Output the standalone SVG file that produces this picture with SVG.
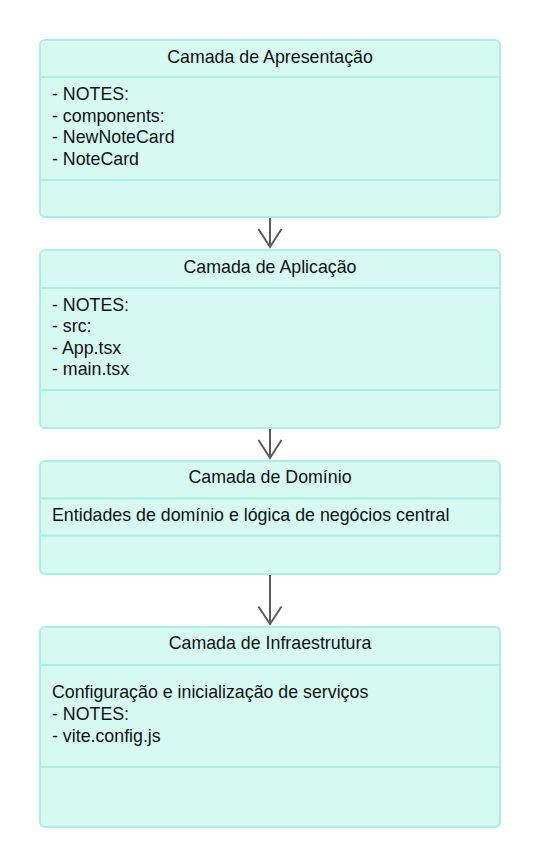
<svg xmlns="http://www.w3.org/2000/svg" width="540" height="868" viewBox="0 0 540 868">
<style>
.box{fill:#d6f9f2;stroke:#aaefe4;stroke-width:2}
.div{stroke:#aaefe4;stroke-width:2}
text{font-family:"Liberation Sans",Arial,sans-serif;font-size:17.8px;fill:#111}
.t{text-anchor:middle}
.edge{stroke:#5b5b5b;stroke-width:2;fill:none}
</style>
<rect width="540" height="868" fill="#ffffff"/>
<g id="apresentacao">
<rect class="box" x="40" y="40" width="460" height="177" rx="5"/>
<line class="div" x1="40" y1="77" x2="500" y2="77"/>
<line class="div" x1="40" y1="180" x2="500" y2="180"/>
<text class="t" x="270" y="63">Camada de Apresentação</text>
<text x="52" y="100">- NOTES:</text>
<text x="52" y="121.5">- components:</text>
<text x="52" y="143">- NewNoteCard</text>
<text x="52" y="164.5">- NoteCard</text>
</g>
<g id="aplicacao">
<rect class="box" x="40" y="250" width="460" height="178" rx="5"/>
<line class="div" x1="40" y1="288" x2="500" y2="288"/>
<line class="div" x1="40" y1="390" x2="500" y2="390"/>
<text class="t" x="270" y="273">Camada de Aplicação</text>
<text x="52" y="311">- NOTES:</text>
<text x="52" y="332">- src:</text>
<text x="52" y="353.5">- App.tsx</text>
<text x="52" y="375">- main.tsx</text>
</g>
<g id="dominio">
<rect class="box" x="40" y="461" width="460" height="113" rx="5"/>
<line class="div" x1="40" y1="498.5" x2="500" y2="498.5"/>
<line class="div" x1="40" y1="535.5" x2="500" y2="535.5"/>
<text class="t" x="270" y="483">Camada de Domínio</text>
<text x="52" y="520.5">Entidades de domínio e lógica de negócios central</text>
</g>
<g id="infraestrutura">
<rect class="box" x="40" y="627" width="460" height="200" rx="5"/>
<line class="div" x1="40" y1="665" x2="500" y2="665"/>
<line class="div" x1="40" y1="767" x2="500" y2="767"/>
<text class="t" x="270" y="649">Camada de Infraestrutura</text>
<text x="52" y="698">Configuração e inicialização de serviços</text>
<text x="52" y="720">- NOTES:</text>
<text x="52" y="741.5">- vite.config.js</text>
</g>
<g id="connectors">
<path class="edge" d="M270 218 V247 M258.5 229 L270 247 L281.5 229"/>
<path class="edge" d="M270 429 V458 M258.5 440 L270 458 L281.5 440"/>
<path class="edge" d="M270 575 V624 M258.5 606.5 L270 624 L281.5 606.5"/>
</g>
</svg>
